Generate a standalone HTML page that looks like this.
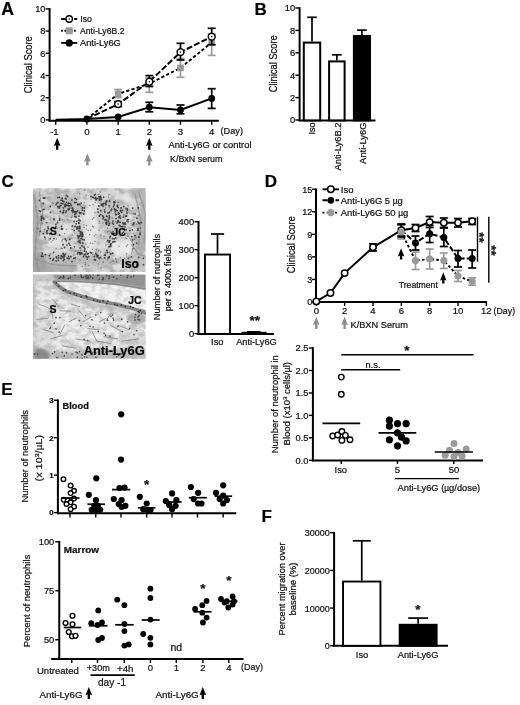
<!DOCTYPE html>
<html><head><meta charset="utf-8"><title>Figure</title>
<style>
html,body{margin:0;padding:0;background:#fff;}
svg{display:block;font-family:"Liberation Sans",Arial,sans-serif;}
svg text{stroke:#111;stroke-width:0.22px;}
</style></head><body>
<svg width="520" height="705" viewBox="0 0 520 705">
<rect width="520" height="705" fill="#fff"/>
<text x="1.2" y="14.7" font-size="17.6" text-anchor="start" font-weight="bold" fill="#000">A</text>
<line x1="49.60" y1="8.10" x2="49.60" y2="121.60" stroke="#000" stroke-width="2" stroke-linecap="butt"/>
<line x1="48.70" y1="120.80" x2="218.80" y2="120.80" stroke="#000" stroke-width="2" stroke-linecap="butt"/>
<line x1="45.60" y1="119.90" x2="49.60" y2="119.90" stroke="#000" stroke-width="1.4" stroke-linecap="butt"/>
<text x="45.4" y="123.2" font-size="9.2" text-anchor="end" fill="#111">0</text>
<line x1="45.60" y1="97.70" x2="49.60" y2="97.70" stroke="#000" stroke-width="1.4" stroke-linecap="butt"/>
<text x="45.4" y="101.0" font-size="9.2" text-anchor="end" fill="#111">2</text>
<line x1="45.60" y1="75.50" x2="49.60" y2="75.50" stroke="#000" stroke-width="1.4" stroke-linecap="butt"/>
<text x="45.4" y="78.8" font-size="9.2" text-anchor="end" fill="#111">4</text>
<line x1="45.60" y1="53.30" x2="49.60" y2="53.30" stroke="#000" stroke-width="1.4" stroke-linecap="butt"/>
<text x="45.4" y="56.60000000000001" font-size="9.2" text-anchor="end" fill="#111">6</text>
<line x1="45.60" y1="31.10" x2="49.60" y2="31.10" stroke="#000" stroke-width="1.4" stroke-linecap="butt"/>
<text x="45.4" y="34.400000000000006" font-size="9.2" text-anchor="end" fill="#111">8</text>
<line x1="45.60" y1="8.90" x2="49.60" y2="8.90" stroke="#000" stroke-width="1.4" stroke-linecap="butt"/>
<text x="45.4" y="12.200000000000006" font-size="9.2" text-anchor="end" fill="#111">10</text>
<line x1="55.70" y1="120.80" x2="55.70" y2="124.80" stroke="#000" stroke-width="1.4" stroke-linecap="butt"/>
<text x="54.400000000000006" y="134.6" font-size="9.6" text-anchor="middle" fill="#111">-1</text>
<line x1="86.90" y1="120.80" x2="86.90" y2="124.80" stroke="#000" stroke-width="1.4" stroke-linecap="butt"/>
<text x="86.9" y="134.6" font-size="9.6" text-anchor="middle" fill="#111">0</text>
<line x1="118.10" y1="120.80" x2="118.10" y2="124.80" stroke="#000" stroke-width="1.4" stroke-linecap="butt"/>
<text x="118.10000000000001" y="134.6" font-size="9.6" text-anchor="middle" fill="#111">1</text>
<line x1="149.30" y1="120.80" x2="149.30" y2="124.80" stroke="#000" stroke-width="1.4" stroke-linecap="butt"/>
<text x="149.3" y="134.6" font-size="9.6" text-anchor="middle" fill="#111">2</text>
<line x1="180.50" y1="120.80" x2="180.50" y2="124.80" stroke="#000" stroke-width="1.4" stroke-linecap="butt"/>
<text x="180.5" y="134.6" font-size="9.6" text-anchor="middle" fill="#111">3</text>
<line x1="211.70" y1="120.80" x2="211.70" y2="124.80" stroke="#000" stroke-width="1.4" stroke-linecap="butt"/>
<text x="211.7" y="134.6" font-size="9.6" text-anchor="middle" fill="#111">4</text>
<text x="220.5" y="134" font-size="9.5" text-anchor="start" fill="#111" textLength="22.5" lengthAdjust="spacingAndGlyphs">(Day)</text>
<text x="32" y="64.7" font-size="10" text-anchor="middle" fill="#111" transform="rotate(-90 32 64.7)" textLength="57" lengthAdjust="spacingAndGlyphs">Clinical Score</text>
<line x1="118.10" y1="89.50" x2="118.10" y2="97.50" stroke="#9a9a9a" stroke-width="1.7" stroke-linecap="butt"/>
<line x1="114.10" y1="89.50" x2="122.10" y2="89.50" stroke="#9a9a9a" stroke-width="1.7" stroke-linecap="butt"/>
<line x1="114.10" y1="97.50" x2="122.10" y2="97.50" stroke="#9a9a9a" stroke-width="1.7" stroke-linecap="butt"/>
<line x1="149.30" y1="78.00" x2="149.30" y2="92.30" stroke="#9a9a9a" stroke-width="1.7" stroke-linecap="butt"/>
<line x1="145.30" y1="78.00" x2="153.30" y2="78.00" stroke="#9a9a9a" stroke-width="1.7" stroke-linecap="butt"/>
<line x1="145.30" y1="92.30" x2="153.30" y2="92.30" stroke="#9a9a9a" stroke-width="1.7" stroke-linecap="butt"/>
<line x1="180.50" y1="58.50" x2="180.50" y2="77.30" stroke="#9a9a9a" stroke-width="1.7" stroke-linecap="butt"/>
<line x1="176.50" y1="58.50" x2="184.50" y2="58.50" stroke="#9a9a9a" stroke-width="1.7" stroke-linecap="butt"/>
<line x1="176.50" y1="77.30" x2="184.50" y2="77.30" stroke="#9a9a9a" stroke-width="1.7" stroke-linecap="butt"/>
<line x1="211.70" y1="34.00" x2="211.70" y2="55.40" stroke="#9a9a9a" stroke-width="1.7" stroke-linecap="butt"/>
<line x1="207.70" y1="34.00" x2="215.70" y2="34.00" stroke="#9a9a9a" stroke-width="1.7" stroke-linecap="butt"/>
<line x1="207.70" y1="55.40" x2="215.70" y2="55.40" stroke="#9a9a9a" stroke-width="1.7" stroke-linecap="butt"/>
<polyline points="86.90,118.93 118.10,93.92 149.30,83.72 180.50,67.92 211.70,42.47" fill="none" stroke="#000" stroke-width="1.9" stroke-dasharray="3.2 2.2"/>
<rect x="114.80" y="90.62" width="6.60" height="6.60" fill="#9a9a9a"/>
<rect x="146.00" y="80.42" width="6.60" height="6.60" fill="#9a9a9a"/>
<rect x="177.20" y="64.62" width="6.60" height="6.60" fill="#9a9a9a"/>
<rect x="208.40" y="39.17" width="6.60" height="6.60" fill="#9a9a9a"/>
<line x1="149.30" y1="75.60" x2="149.30" y2="86.50" stroke="#000" stroke-width="1.7" stroke-linecap="butt"/>
<line x1="145.30" y1="75.60" x2="153.30" y2="75.60" stroke="#000" stroke-width="1.7" stroke-linecap="butt"/>
<line x1="145.30" y1="86.50" x2="153.30" y2="86.50" stroke="#000" stroke-width="1.7" stroke-linecap="butt"/>
<line x1="180.50" y1="43.30" x2="180.50" y2="60.00" stroke="#000" stroke-width="1.7" stroke-linecap="butt"/>
<line x1="176.50" y1="43.30" x2="184.50" y2="43.30" stroke="#000" stroke-width="1.7" stroke-linecap="butt"/>
<line x1="176.50" y1="60.00" x2="184.50" y2="60.00" stroke="#000" stroke-width="1.7" stroke-linecap="butt"/>
<line x1="211.70" y1="28.30" x2="211.70" y2="44.70" stroke="#000" stroke-width="1.7" stroke-linecap="butt"/>
<line x1="207.70" y1="28.30" x2="215.70" y2="28.30" stroke="#000" stroke-width="1.7" stroke-linecap="butt"/>
<line x1="207.70" y1="44.70" x2="215.70" y2="44.70" stroke="#000" stroke-width="1.7" stroke-linecap="butt"/>
<line x1="118.10" y1="101.50" x2="118.10" y2="106.50" stroke="#000" stroke-width="1.7" stroke-linecap="butt"/>
<line x1="114.10" y1="101.50" x2="122.10" y2="101.50" stroke="#000" stroke-width="1.7" stroke-linecap="butt"/>
<line x1="114.10" y1="106.50" x2="122.10" y2="106.50" stroke="#000" stroke-width="1.7" stroke-linecap="butt"/>
<polyline points="86.90,118.93 118.10,104.12 149.30,81.74 180.50,52.12 211.70,36.66" fill="none" stroke="#000" stroke-width="2.0" stroke-dasharray="6 2.2"/>
<circle cx="118.10" cy="104.12" r="3.4" fill="#fff" stroke="#000" stroke-width="1.5"/>
<circle cx="118.10" cy="104.12" r="0.8" fill="#000"/>
<circle cx="149.30" cy="81.74" r="3.4" fill="#fff" stroke="#000" stroke-width="1.5"/>
<circle cx="149.30" cy="81.74" r="0.8" fill="#000"/>
<circle cx="180.50" cy="52.12" r="3.4" fill="#fff" stroke="#000" stroke-width="1.5"/>
<circle cx="180.50" cy="52.12" r="0.8" fill="#000"/>
<circle cx="211.70" cy="36.66" r="3.4" fill="#fff" stroke="#000" stroke-width="1.5"/>
<circle cx="211.70" cy="36.66" r="0.8" fill="#000"/>
<line x1="149.30" y1="102.30" x2="149.30" y2="111.80" stroke="#000" stroke-width="1.7" stroke-linecap="butt"/>
<line x1="145.30" y1="102.30" x2="153.30" y2="102.30" stroke="#000" stroke-width="1.7" stroke-linecap="butt"/>
<line x1="145.30" y1="111.80" x2="153.30" y2="111.80" stroke="#000" stroke-width="1.7" stroke-linecap="butt"/>
<line x1="180.50" y1="105.00" x2="180.50" y2="113.80" stroke="#000" stroke-width="1.7" stroke-linecap="butt"/>
<line x1="176.50" y1="105.00" x2="184.50" y2="105.00" stroke="#000" stroke-width="1.7" stroke-linecap="butt"/>
<line x1="176.50" y1="113.80" x2="184.50" y2="113.80" stroke="#000" stroke-width="1.7" stroke-linecap="butt"/>
<line x1="211.70" y1="88.70" x2="211.70" y2="108.40" stroke="#000" stroke-width="1.7" stroke-linecap="butt"/>
<line x1="207.70" y1="88.70" x2="215.70" y2="88.70" stroke="#000" stroke-width="1.7" stroke-linecap="butt"/>
<line x1="207.70" y1="108.40" x2="215.70" y2="108.40" stroke="#000" stroke-width="1.7" stroke-linecap="butt"/>
<polyline points="55.70,119.70 86.90,118.93 118.10,116.96 149.30,107.19 180.50,109.94 211.70,98.42" fill="none" stroke="#000" stroke-width="2.0"/>
<circle cx="86.90" cy="118.93" r="3.4" fill="#000"/>
<circle cx="118.10" cy="116.96" r="3.4" fill="#000"/>
<circle cx="149.30" cy="107.19" r="3.4" fill="#000"/>
<circle cx="180.50" cy="109.94" r="3.4" fill="#000"/>
<circle cx="211.70" cy="98.42" r="3.4" fill="#000"/>
<line x1="61.20" y1="19.00" x2="77.30" y2="19.00" stroke="#000" stroke-width="1.9" stroke-dasharray="5 1.5" stroke-linecap="butt"/>
<circle cx="69.20" cy="19.00" r="3.2" fill="#fff" stroke="#000" stroke-width="1.4"/>
<circle cx="69.20" cy="19.00" r="0.8" fill="#000"/>
<line x1="61.20" y1="30.80" x2="77.30" y2="30.80" stroke="#000" stroke-width="1.9" stroke-dasharray="1.7 1.5" stroke-linecap="butt"/>
<rect x="65.70" y="27.30" width="7.00" height="7.00" fill="#9a9a9a"/>
<line x1="61.20" y1="42.90" x2="77.30" y2="42.90" stroke="#000" stroke-width="1.9" stroke-linecap="butt"/>
<circle cx="69.20" cy="42.90" r="3.6" fill="#000"/>
<text x="80.3" y="22.3" font-size="9.2" text-anchor="start" fill="#111" textLength="11.6" lengthAdjust="spacingAndGlyphs">Iso</text>
<text x="80" y="34.1" font-size="9.2" text-anchor="start" fill="#111" textLength="44.5" lengthAdjust="spacingAndGlyphs">Anti-Ly6B.2</text>
<text x="80" y="46.199999999999996" font-size="9.2" text-anchor="start" fill="#111" textLength="40.8" lengthAdjust="spacingAndGlyphs">Anti-Ly6G</text>
<polygon points="57.20,137.70 60.50,146.10 58.35,145.20 58.35,149.70 56.05,149.70 56.05,145.20 53.90,146.10" fill="#000"/>
<polygon points="149.30,137.70 152.60,146.10 150.45,145.20 150.45,149.70 148.15,149.70 148.15,145.20 146.00,146.10" fill="#000"/>
<polygon points="87.40,153.40 90.70,161.80 88.55,160.90 88.55,165.50 86.25,165.50 86.25,160.90 84.10,161.80" fill="#8c8c8c"/>
<polygon points="149.30,153.40 152.60,161.80 150.45,160.90 150.45,165.50 148.15,165.50 148.15,160.90 146.00,161.80" fill="#8c8c8c"/>
<text x="168.5" y="148.4" font-size="9.5" text-anchor="start" fill="#111" textLength="83" lengthAdjust="spacingAndGlyphs">Anti-Ly6G or control</text>
<text x="170" y="161.8" font-size="9.5" text-anchor="start" fill="#111" textLength="52.5" lengthAdjust="spacingAndGlyphs">K/BxN serum</text>
<text x="254.6" y="15.1" font-size="17" text-anchor="start" font-weight="bold" fill="#000">B</text>
<line x1="299.60" y1="7.20" x2="299.60" y2="121.20" stroke="#000" stroke-width="2" stroke-linecap="butt"/>
<line x1="298.70" y1="120.40" x2="375.50" y2="120.40" stroke="#000" stroke-width="2" stroke-linecap="butt"/>
<line x1="295.40" y1="120.00" x2="299.60" y2="120.00" stroke="#000" stroke-width="1.4" stroke-linecap="butt"/>
<text x="295.20000000000005" y="123.3" font-size="9.4" text-anchor="end" fill="#111">0</text>
<line x1="295.40" y1="97.60" x2="299.60" y2="97.60" stroke="#000" stroke-width="1.4" stroke-linecap="butt"/>
<text x="295.20000000000005" y="100.89999999999999" font-size="9.4" text-anchor="end" fill="#111">2</text>
<line x1="295.40" y1="75.20" x2="299.60" y2="75.20" stroke="#000" stroke-width="1.4" stroke-linecap="butt"/>
<text x="295.20000000000005" y="78.5" font-size="9.4" text-anchor="end" fill="#111">4</text>
<line x1="295.40" y1="52.80" x2="299.60" y2="52.80" stroke="#000" stroke-width="1.4" stroke-linecap="butt"/>
<text x="295.20000000000005" y="56.10000000000001" font-size="9.4" text-anchor="end" fill="#111">6</text>
<line x1="295.40" y1="30.40" x2="299.60" y2="30.40" stroke="#000" stroke-width="1.4" stroke-linecap="butt"/>
<text x="295.20000000000005" y="33.7" font-size="9.4" text-anchor="end" fill="#111">8</text>
<line x1="295.40" y1="8.00" x2="299.60" y2="8.00" stroke="#000" stroke-width="1.4" stroke-linecap="butt"/>
<text x="295.20000000000005" y="11.3" font-size="9.4" text-anchor="end" fill="#111">10</text>
<line x1="312.00" y1="17.30" x2="312.00" y2="41.60" stroke="#000" stroke-width="1.7" stroke-linecap="butt"/>
<line x1="307.20" y1="17.30" x2="316.80" y2="17.30" stroke="#000" stroke-width="1.7" stroke-linecap="butt"/>
<rect x="303.80" y="42.60" width="16.40" height="77.80" fill="#fff" stroke="#000" stroke-width="2"/>
<line x1="336.85" y1="54.80" x2="336.85" y2="60.40" stroke="#000" stroke-width="1.7" stroke-linecap="butt"/>
<line x1="332.05" y1="54.80" x2="341.65" y2="54.80" stroke="#000" stroke-width="1.7" stroke-linecap="butt"/>
<rect x="329.10" y="61.40" width="15.50" height="59.00" fill="#fff" stroke="#000" stroke-width="2"/>
<line x1="361.95" y1="30.10" x2="361.95" y2="35.00" stroke="#000" stroke-width="1.7" stroke-linecap="butt"/>
<line x1="357.15" y1="30.10" x2="366.75" y2="30.10" stroke="#000" stroke-width="1.7" stroke-linecap="butt"/>
<rect x="353.90" y="36.00" width="16.10" height="84.40" fill="#000" stroke="#000" stroke-width="2"/>
<text x="277.2" y="63.8" font-size="10" text-anchor="middle" fill="#111" transform="rotate(-90 277.2 63.8)" textLength="57" lengthAdjust="spacingAndGlyphs">Clinical Score</text>
<text x="315.5" y="122.4" font-size="9.3" text-anchor="end" fill="#111" transform="rotate(-90 315.5 122.4)" textLength="12.2" lengthAdjust="spacingAndGlyphs">Iso</text>
<text x="340.8" y="122.4" font-size="9.3" text-anchor="end" fill="#111" transform="rotate(-90 340.8 122.4)" textLength="48.2" lengthAdjust="spacingAndGlyphs">Anti-Ly6B.2</text>
<text x="366" y="122.4" font-size="9.3" text-anchor="end" fill="#111" transform="rotate(-90 366 122.4)" textLength="41.5" lengthAdjust="spacingAndGlyphs">Anti-Ly6G</text>
<text x="1.4" y="186.9" font-size="17" text-anchor="start" font-weight="bold" fill="#000">C</text>
<defs>
<filter id="bl1" x="-5%" y="-5%" width="110%" height="110%"><feGaussianBlur stdDeviation="0.5"/></filter>
<filter id="bl2" x="-10%" y="-10%" width="120%" height="120%"><feGaussianBlur stdDeviation="1.0"/></filter>
<filter id="bl3" x="-20%" y="-20%" width="140%" height="140%"><feGaussianBlur stdDeviation="1.6"/></filter>
<filter id="tx" x="0" y="0" width="100%" height="100%"><feTurbulence type="fractalNoise" baseFrequency="0.13 0.2" numOctaves="3" seed="3" result="n"/><feColorMatrix in="n" type="matrix" values="0 0 0 0 0.28  0 0 0 0 0.28  0 0 0 0 0.28  3.4 0 0 0 -1.35"/></filter>
<filter id="tw" x="0" y="0" width="100%" height="100%"><feTurbulence type="fractalNoise" baseFrequency="0.1 0.14" numOctaves="2" seed="11" result="n"/><feColorMatrix in="n" type="matrix" values="0 0 0 0 0.97  0 0 0 0 0.97  0 0 0 0 0.97  0 3.6 0 0 -1.5"/></filter>
<clipPath id="c1"><rect x="32.9" y="188.2" width="112.7" height="83.7"/></clipPath>
<clipPath id="c2"><rect x="32.9" y="274.5" width="112.7" height="84.3"/></clipPath>
</defs>
<g clip-path="url(#c1)">
<rect x="32.9" y="188.2" width="112.7" height="83.7" fill="#d2d2d2"/>
<rect x="32.9" y="188.2" width="112.7" height="83.7" filter="url(#tw)" opacity="0.28"/>
<rect x="32.9" y="188.2" width="112.7" height="83.7" filter="url(#tx)" opacity="0.55"/>
<g filter="url(#bl3)" opacity="0.8">
<ellipse cx="91.2" cy="226.5" rx="8.3" ry="28.8" fill="#ececec" opacity="1" transform="rotate(6 91.2 226.5)"/>
<ellipse cx="122.3" cy="247.8" rx="12.0" ry="8.3" fill="#efefef" opacity="1" transform="rotate(0 122.3 247.8)"/>
<ellipse cx="130.4" cy="197.7" rx="8.8" ry="6.5" fill="#e6e6e6" opacity="1" transform="rotate(0 130.4 197.7)"/>
<ellipse cx="56.5" cy="242.7" rx="8.3" ry="6.9" fill="#e6e6e6" opacity="1" transform="rotate(0 56.5 242.7)"/>
<ellipse cx="65.8" cy="230.0" rx="6.9" ry="6.5" fill="#e6e6e6" opacity="1" transform="rotate(0 65.8 230.0)"/>
<ellipse cx="77.3" cy="219.6" rx="5.1" ry="5.8" fill="#e2e2e2" opacity="1" transform="rotate(0 77.3 219.6)"/>
<ellipse cx="106.2" cy="193.1" rx="13.8" ry="2.8" fill="#dcdcdc" opacity="1" transform="rotate(0 106.2 193.1)"/>
<ellipse cx="34.2" cy="231.2" rx="5.5" ry="42.7" fill="#a6a6a6" opacity="1" transform="rotate(0 34.2 231.2)"/>
<ellipse cx="142.6" cy="228.8" rx="6.5" ry="40.4" fill="#adadad" opacity="1" transform="rotate(8 142.6 228.8)"/>
<ellipse cx="48.5" cy="268.1" rx="30.0" ry="5.5" fill="#a8a8a8" opacity="1" transform="rotate(0 48.5 268.1)"/>
<ellipse cx="36.9" cy="263.5" rx="10.4" ry="11.5" fill="#9a9a9a" opacity="1" transform="rotate(0 36.9 263.5)"/>
<ellipse cx="66.9" cy="205.8" rx="17.3" ry="8.8" fill="#bcbcbc" opacity="1" transform="rotate(20 66.9 205.8)"/>
<ellipse cx="110.8" cy="215.0" rx="15.0" ry="15.0" fill="#c2c2c2" opacity="1" transform="rotate(0 110.8 215.0)"/>
<ellipse cx="80.8" cy="260.0" rx="34.6" ry="4.6" fill="#b8b8b8" opacity="1" transform="rotate(3 80.8 260.0)"/>
<ellipse cx="136.2" cy="263.5" rx="13.8" ry="6.0" fill="#bcbcbc" opacity="1" transform="rotate(0 136.2 263.5)"/>
<ellipse cx="81.2" cy="238.1" rx="3.7" ry="13.8" fill="#c0c0c0" opacity="1" transform="rotate(-12 81.2 238.1)"/>
<ellipse cx="139.6" cy="193.1" rx="10.4" ry="6.9" fill="#b0b0b0" opacity="1" transform="rotate(0 139.6 193.1)"/>
</g>
<g filter="url(#bl1)">
<path d="M33.5 194.2 L38.1 219.6 L34.6 254.2 L39.2 272.7M39.2 191.9 L42.7 212.7 L39.2 235.8M135.0 194.2 L140.8 219.6 L138.5 245.0M138.5 191.9 L145.4 212.7 L144.2 242.7M131.5 245.0 L138.5 254.2 L145.4 256.5M34.6 258.8 L53.1 264.6 L76.2 265.8M126.9 233.5 L133.8 245.0 L131.5 254.2" stroke="#8a8a8a" stroke-width="1.3" stroke-linecap="round" stroke-linejoin="round" fill="none" opacity="0.7"/>
<path d="M73.1 211.9h0M79.8 213.3h0M59.5 207.9h0M65.4 204.2h0M66.1 205.4h0M72.4 208.4h0M76.1 202.3h0M69.0 209.3h0M82.3 207.9h0M57.9 206.4h0M83.7 214.0h0M62.5 212.6h0M72.9 209.8h0M74.6 202.5h0M63.9 201.7h0M58.3 207.7h0M79.4 212.4h0M69.5 208.3h0M56.0 204.7h0M62.4 200.3h0M63.7 210.4h0M67.5 196.4h0M62.8 201.1h0M79.3 204.1h0M63.2 212.1h0M78.9 216.2h0M71.8 200.1h0M62.8 203.7h0M68.2 203.6h0M57.8 197.6h0M60.4 211.5h0M59.5 197.4h0M56.6 203.3h0M84.3 208.0h0M65.4 198.3h0M68.8 203.2h0M82.4 210.2h0M63.1 212.7h0M66.1 199.0h0M66.7 205.2h0M73.3 210.1h0M70.5 203.7h0M68.1 209.1h0M77.8 204.2h0M64.6 205.0h0M79.8 204.5h0M81.2 203.1h0M60.9 205.5h0M77.8 204.8h0M75.9 216.4h0M68.6 209.8h0M61.3 203.3h0M65.7 212.4h0M68.2 205.7h0M61.0 200.2h0M66.4 195.4h0M62.2 198.2h0M80.9 212.9h0M75.2 198.3h0M76.7 199.3h0M59.8 206.2h0M66.5 202.3h0M72.6 208.0h0M71.8 210.7h0M77.6 210.8h0M69.3 205.9h0M65.0 206.7h0M71.4 205.4h0M74.7 214.3h0M63.2 207.8h0M74.9 212.2h0M84.3 210.9h0M58.0 202.4h0M72.5 208.8h0M66.4 210.8h0M78.9 230.6h0M76.7 221.3h0M78.6 228.4h0M79.3 223.1h0M79.0 220.5h0M74.0 212.0h0M75.1 226.4h0M76.0 217.2h0M76.0 213.6h0M77.1 228.4h0M79.8 220.6h0M76.6 211.8h0M75.0 211.6h0M74.1 221.5h0M78.7 223.0h0M76.2 223.8h0M74.9 216.5h0M72.6 225.9h0M80.1 220.7h0M74.2 230.6h0M76.9 227.2h0M77.1 226.8h0M82.2 232.5h0M78.3 241.5h0M79.9 228.6h0M80.0 236.0h0M79.2 226.4h0M78.5 241.5h0M80.4 233.6h0M80.3 231.7h0M80.1 248.0h0M82.8 236.0h0M84.9 249.0h0M82.8 243.0h0M79.9 226.9h0M80.9 234.5h0M76.9 228.5h0M78.7 237.3h0M82.6 239.4h0M76.8 228.9h0M82.8 234.7h0M81.5 232.4h0M84.6 251.0h0M82.1 245.9h0M79.0 236.1h0M80.3 242.9h0M81.8 236.4h0M79.6 241.8h0M82.3 232.9h0M82.3 234.5h0M78.3 237.9h0M84.1 239.8h0M84.0 247.2h0M81.1 238.4h0M80.0 240.5h0M77.5 235.8h0M82.0 253.3h0M91.6 253.0h0M85.3 253.9h0M87.3 257.1h0M78.1 252.3h0M90.2 252.5h0M77.5 253.8h0M79.3 252.7h0M86.5 251.9h0M80.9 252.7h0M97.0 256.5h0M96.8 255.0h0M87.1 259.1h0M97.7 256.6h0M95.4 260.1h0M84.7 254.8h0M88.8 256.5h0M87.5 254.0h0M98.1 255.6h0M88.2 253.6h0M94.4 259.6h0M100.3 257.6h0M94.5 256.3h0M81.1 253.5h0M95.8 253.5h0M84.2 254.9h0M83.5 256.6h0M86.2 256.4h0M99.1 258.6h0M80.1 254.2h0M56.3 256.9h0M42.4 254.1h0M62.6 257.1h0M74.8 258.1h0M56.9 258.1h0M58.5 255.7h0M64.4 259.4h0M68.7 256.3h0M56.1 260.9h0M64.4 256.5h0M53.7 252.3h0M63.1 257.8h0M43.1 256.4h0M62.6 256.7h0M63.2 253.4h0M61.3 255.9h0M61.1 256.0h0M50.3 258.4h0M70.9 256.7h0M64.3 259.4h0M58.2 260.3h0M60.9 258.4h0M58.8 257.8h0M53.6 258.7h0M52.9 260.2h0M63.3 260.6h0M69.0 258.5h0M67.3 258.1h0M42.1 253.0h0M49.3 255.7h0M72.0 261.6h0M41.4 256.2h0M65.0 254.5h0M45.5 254.7h0M73.8 258.3h0M63.7 254.8h0M94.4 195.1h0M96.0 199.9h0M100.6 198.4h0M99.1 196.6h0M101.5 199.5h0M100.6 196.7h0M95.3 194.3h0M99.5 199.9h0M94.6 198.3h0M96.0 198.2h0M103.6 197.2h0M91.0 196.5h0M103.5 197.3h0M96.2 199.5h0M99.0 197.8h0M93.2 197.6h0M95.3 197.6h0M99.2 198.0h0M97.1 198.4h0M101.0 197.8h0M99.8 200.0h0M92.6 197.1h0M103.6 203.5h0M117.4 205.3h0M106.0 219.7h0M117.1 222.9h0M102.9 204.2h0M111.0 210.4h0M101.3 204.1h0M113.8 202.6h0M104.9 212.0h0M114.2 204.9h0M114.9 202.6h0M117.2 206.6h0M106.0 202.9h0M115.6 213.9h0M106.6 216.2h0M111.7 209.2h0M103.0 205.9h0M105.4 203.6h0M118.5 212.9h0M109.5 201.4h0M100.8 210.7h0M119.0 216.8h0M109.5 223.6h0M109.3 216.1h0M112.6 223.1h0M120.4 211.0h0M103.0 218.7h0M106.1 204.7h0M101.4 205.2h0M118.6 217.5h0M109.5 217.6h0M105.9 223.0h0M119.2 213.4h0M109.2 215.8h0M105.9 203.0h0M107.0 222.8h0M100.7 214.7h0M116.0 218.6h0M113.4 224.1h0M121.2 207.8h0M108.0 213.1h0M120.9 210.4h0M108.6 221.1h0M115.1 210.7h0M104.5 209.8h0M104.9 212.0h0M117.9 221.9h0M98.1 212.1h0M106.2 201.2h0M114.5 209.0h0M118.4 214.1h0M108.9 212.7h0M106.9 220.8h0M107.0 216.6h0M113.4 206.7h0M109.6 212.2h0M118.1 220.7h0M106.8 200.8h0M106.6 224.4h0M103.6 217.5h0M98.9 206.0h0M102.8 216.0h0M116.0 214.7h0M111.7 209.2h0M115.9 210.0h0M109.0 219.0h0M113.0 221.1h0M117.1 210.6h0M114.1 201.7h0M118.2 207.5h0M97.9 208.9h0M119.9 216.0h0M99.3 216.0h0M102.8 204.0h0M116.1 214.7h0M118.1 221.5h0M104.8 219.9h0M109.1 205.8h0M108.8 225.2h0M106.4 222.5h0M119.9 225.7h0M124.1 224.5h0M125.7 216.3h0M123.3 229.2h0M128.3 219.7h0M125.0 226.9h0M125.0 223.0h0M125.6 224.2h0M122.7 226.3h0M127.0 213.1h0M119.2 225.5h0M120.4 218.0h0M121.2 226.7h0M122.9 223.0h0M126.1 229.6h0M121.6 212.3h0M123.4 232.2h0M122.9 226.8h0M120.2 222.3h0M127.3 208.9h0M128.0 221.8h0M123.4 217.2h0M118.6 221.4h0M127.3 220.0h0M126.6 216.0h0M127.2 210.0h0M122.3 233.2h0M124.1 223.5h0M122.7 210.4h0M123.7 206.4h0M114.1 233.3h0M109.9 237.8h0M112.5 238.7h0M114.2 238.8h0M109.0 246.9h0M111.1 243.6h0M112.7 233.4h0M112.8 242.0h0M110.3 236.5h0M110.9 246.0h0M114.9 241.7h0M109.5 241.0h0M111.4 232.9h0M107.8 240.7h0M110.8 244.7h0M113.1 231.7h0M113.9 241.7h0M112.1 234.4h0M110.3 246.1h0M115.7 237.9h0M113.5 241.8h0M109.2 242.3h0M109.1 257.5h0M106.9 250.5h0M108.7 257.1h0M104.7 258.0h0M108.1 258.0h0M107.5 252.3h0M110.9 253.6h0M109.2 256.9h0M104.5 255.2h0M112.7 253.2h0M105.2 255.2h0M110.5 253.9h0M55.3 228.1h0M48.3 228.5h0M59.7 218.5h0M61.6 226.4h0M44.9 237.3h0M55.8 224.4h0M61.5 228.7h0M43.3 233.7h0M47.0 233.3h0M56.0 226.6h0M46.8 231.9h0M59.6 235.2h0M54.1 238.6h0M54.1 219.7h0M40.3 231.3h0M48.0 227.0h0M57.5 222.8h0M47.1 230.7h0M62.6 228.8h0M53.9 219.0h0M61.5 229.3h0M53.0 227.4h0M50.2 238.7h0M59.6 220.0h0M49.7 233.9h0M41.6 218.2h0M43.1 203.5h0M43.2 218.1h0M43.9 209.5h0M39.4 200.5h0M50.5 212.4h0M40.5 211.4h0M50.3 206.5h0M43.8 219.0h0M39.3 210.8h0M46.6 222.6h0M43.4 198.0h0M44.7 198.0h0M41.3 219.9h0M41.3 216.4h0M140.0 234.0h0M135.1 214.0h0M138.0 228.8h0M133.9 222.9h0M138.7 222.6h0M141.1 222.6h0M137.9 230.2h0M133.0 224.3h0M129.9 230.6h0M132.3 229.8h0M132.7 208.1h0M138.2 207.9h0M138.8 237.2h0M133.4 244.6h0M131.6 236.7h0M136.7 243.1h0M135.1 235.7h0M136.9 218.2h0M132.7 239.8h0M139.1 223.5h0M136.9 265.2h0M131.4 256.9h0M143.5 264.6h0M138.8 257.5h0M143.4 258.4h0M135.7 262.3h0M137.3 263.0h0M128.3 258.3h0M64.6 247.5h0M63.1 244.7h0M69.8 239.2h0M74.5 246.8h0M65.3 239.0h0M67.0 245.1h0M70.0 245.2h0M66.4 240.6h0M70.8 248.0h0M68.9 243.3h0" stroke="#282828" stroke-width="1.8" stroke-linecap="round" fill="none" opacity="0.85"/>
<path d="M107.7 259.4h0M98.7 250.5h0M43.8 218.1h0M101.0 234.9h0M57.6 221.0h0M126.4 246.3h0M82.6 213.5h0M82.8 254.1h0M118.8 222.4h0M62.3 219.7h0M62.0 240.9h0M140.4 228.0h0M100.7 251.9h0M103.3 261.9h0M93.4 227.1h0M105.1 205.1h0M115.6 211.6h0M109.2 252.2h0M83.7 227.3h0M126.6 211.5h0M78.4 220.5h0M57.0 228.2h0M85.7 243.9h0M124.9 215.7h0M72.1 229.6h0M137.6 221.4h0M106.9 241.7h0M142.0 222.8h0M125.6 238.1h0M50.2 254.0h0M52.5 202.5h0M116.3 259.8h0M98.4 264.1h0M109.6 207.7h0M110.2 262.4h0M69.5 240.0h0M61.0 248.3h0M90.4 243.0h0M126.9 208.2h0M79.8 225.7h0M135.9 237.2h0M126.7 253.8h0M50.1 219.2h0M75.1 258.9h0M59.5 215.9h0M70.8 206.7h0M56.4 239.0h0M83.9 224.7h0M93.5 257.0h0M98.9 194.2h0M105.7 253.6h0M119.2 246.2h0M72.4 235.0h0M74.7 233.2h0M127.5 236.2h0M127.6 244.8h0M98.0 194.8h0M126.6 238.5h0M62.3 248.8h0M124.7 258.6h0M140.2 227.9h0M108.4 197.1h0M113.7 226.8h0M126.6 221.2h0M116.4 262.1h0M133.6 213.7h0M81.8 237.2h0M115.6 258.4h0M82.0 266.6h0M120.4 257.5h0M123.7 215.0h0M88.0 247.2h0M73.8 254.9h0M94.3 235.9h0M110.1 222.5h0M125.4 208.5h0M94.8 212.7h0M71.9 226.2h0M62.5 253.7h0M42.3 216.0h0M120.6 208.2h0M107.5 228.3h0M56.1 248.6h0M85.5 264.8h0M42.3 210.1h0M93.0 204.7h0M106.0 252.9h0M134.6 239.3h0M88.9 265.4h0M133.1 225.6h0M68.6 202.4h0M120.3 229.1h0M95.9 234.8h0M51.2 241.9h0M120.8 211.2h0M92.8 243.4h0M133.4 233.4h0M88.3 230.5h0M79.0 239.1h0M67.8 219.3h0M101.8 258.6h0M47.7 233.9h0M108.3 223.1h0M105.8 244.9h0M79.2 219.3h0M100.2 191.9h0M86.9 254.3h0M86.4 225.4h0M66.0 253.3h0M49.1 240.1h0M84.6 190.0h0M112.2 217.4h0M78.8 227.2h0M92.7 254.5h0M92.4 219.2h0M84.3 227.4h0M123.0 259.4h0M71.2 217.5h0M65.7 206.5h0M112.3 261.3h0M80.6 250.2h0M99.2 223.2h0M79.6 194.0h0M92.4 226.2h0M44.3 236.4h0M45.4 239.1h0M110.3 240.6h0M115.4 233.5h0M89.9 205.5h0M115.5 201.0h0M85.4 262.7h0M52.9 240.6h0M42.4 223.6h0M72.5 212.7h0M101.0 267.7h0M140.6 232.5h0M92.4 249.4h0M134.0 217.0h0M68.2 259.7h0M65.9 262.2h0M112.2 218.0h0M74.9 198.8h0M133.8 224.5h0M109.9 205.5h0M118.3 202.5h0M84.3 202.5h0M75.5 257.4h0M72.1 215.9h0M102.8 222.9h0M110.3 231.4h0M106.0 223.2h0M110.0 247.3h0M98.9 230.6h0M59.9 203.8h0M86.2 195.2h0M78.3 223.3h0M103.5 206.7h0M128.1 205.8h0M99.4 221.2h0M138.7 215.6h0M94.9 241.6h0M107.7 231.7h0M109.0 194.5h0M109.6 200.2h0M80.0 260.1h0M104.0 236.2h0M103.2 262.6h0M62.8 239.4h0M89.7 234.7h0M83.8 207.9h0M75.8 251.0h0M36.8 227.9h0M53.2 203.6h0M81.8 232.5h0M95.2 202.4h0M81.0 206.0h0M98.3 257.8h0M132.4 249.1h0M113.6 260.9h0M90.6 230.2h0M136.9 224.0h0M86.4 229.0h0M101.0 201.7h0M66.7 229.4h0M105.7 208.1h0M116.0 221.7h0M96.4 249.8h0M44.6 229.2h0M78.2 218.7h0M93.6 217.7h0M100.4 196.0h0M63.5 254.1h0M62.9 244.6h0M133.9 248.5h0M140.5 234.8h0M88.0 247.1h0M38.5 228.6h0M114.9 212.3h0M64.6 233.6h0M91.1 199.4h0" stroke="#4a4a4a" stroke-width="1.5" stroke-linecap="round" fill="none" opacity="0.6"/>
</g>
</g>
<g clip-path="url(#c2)">
<rect x="32.9" y="274.5" width="112.7" height="84.3" fill="#e9e9e9"/>
<rect x="32.9" y="274.5" width="112.7" height="84.3" filter="url(#tw)" opacity="0.2"/>
<rect x="32.9" y="274.5" width="112.7" height="84.3" filter="url(#tx)" opacity="0.15"/>
<g filter="url(#bl2)">
<path d="M51.9 273.2 L146.5 273.2 L146.5 289.1 L119.1 284.7 L97.6 282.6 L76.2 281.5 L55.4 281.2Z" fill="#8e8e8e" opacity="0.95"/>
<path d="M31.2 273.2 L51.9 273.2 L57.7 281.2 L43.8 282.4 L31.2 281.2Z" fill="#c6c6c6" opacity="0.9"/>
<path d="M54.2 282.2 L60.7 287.7 L67.4 291.8 L82.6 296.5 L97.6 300.8 L114.9 304.1 L127.8 307.3 L146.5 312.4 L146.5 289.1 L119.1 284.7 L97.6 282.6 L76.2 281.5 L55.4 281.2Z" fill="#f3f3f3" opacity="1"/>
<path d="M31.2 350.0 L64.6 351.6 L99.2 349.3 L146.5 348.2 L146.5 363.2 L31.2 363.2Z" fill="#bebebe" opacity="0.9"/>
<ellipse cx="39.2" cy="356.2" rx="10.4" ry="8.1" fill="#8a8a8a" opacity="1" transform="rotate(0 39.2 356.2)"/>
<ellipse cx="137.3" cy="318.2" rx="10.4" ry="6.0" fill="#b0b0b0" opacity="1" transform="rotate(0 137.3 318.2)"/>
<path d="M54.9 285.8 L62.3 292.3 L69.2 296.5 L83.5 301.1 L98.3 305.5 L115.4 308.9 L127.8 312.2" stroke="#c2c2c2" stroke-width="4.5" stroke-linecap="round" stroke-linejoin="round" fill="none" opacity="0.8"/>
<ellipse cx="32.8" cy="318.2" rx="3.2" ry="43.8" fill="#c4c4c4" opacity="1" transform="rotate(0 32.8 318.2)"/>
<ellipse cx="133.8" cy="338.9" rx="13.8" ry="9.2" fill="#d6d6d6" opacity="0.8" transform="rotate(0 133.8 338.9)"/>
<ellipse cx="43.8" cy="334.3" rx="13.8" ry="11.5" fill="#dcdcdc" opacity="0.8" transform="rotate(0 43.8 334.3)"/>
<ellipse cx="85.4" cy="327.4" rx="32.3" ry="13.8" fill="#f0f0f0" opacity="0.7" transform="rotate(0 85.4 327.4)"/>
</g>
<rect x="32.9" y="274.5" width="112.7" height="84.3" filter="url(#tx)" opacity="0.3"/>
<g filter="url(#bl1)">
<path d="M54.2 282.2 L60.7 287.7 L67.4 291.8 L82.6 296.5 L97.6 300.8 L114.9 304.1 L127.8 307.3 L146.5 312.4" stroke="#7c7c7c" stroke-width="3.6" stroke-linecap="round" stroke-linejoin="round" fill="none" opacity="0.92"/>
<path d="M55.4 281.2 L76.2 281.5 L97.6 282.6 L119.1 284.7 L146.5 289.1" stroke="#7a7a7a" stroke-width="1.6" stroke-linecap="round" stroke-linejoin="round" fill="none" opacity="0.8"/>
<path d="M60.0 310.8 L70.4 311.2M69.2 321.6 L76.2 318.2M83.1 321.6 L91.2 317.0M106.2 320.5 L110.8 313.5M36.9 319.3 L48.5 318.2M87.7 328.5 L99.2 329.7M50.8 338.9 L62.3 335.5M99.2 321.6 L106.2 318.2M53.1 299.7 L58.8 306.6M71.5 304.3 L79.6 306.6M117.7 325.1 L129.2 329.7M43.8 329.7 L53.1 332.5M76.2 338.9 L90.0 341.2M103.8 336.6 L117.7 338.9M62.3 345.8 L76.2 348.2M122.3 341.2 L138.5 338.9M39.2 304.3 L50.8 308.9 L53.1 318.2M64.6 325.1 L60.0 334.3M92.3 332.0 L96.9 341.2 L110.8 343.5M110.8 325.1 L122.3 332.0M78.5 310.1 L85.4 318.2" stroke="#707070" stroke-width="0.85" stroke-linecap="round" stroke-linejoin="round" fill="none" opacity="0.8"/>
<path d="M74.9 275.2h0M86.6 278.5h0M109.3 276.2h0M97.3 274.8h0M81.6 277.5h0M63.6 275.9h0M83.3 277.3h0M102.5 279.7h0M92.8 278.2h0M120.7 275.1h0M109.3 278.0h0M88.6 278.3h0M116.9 278.8h0M109.1 278.5h0M93.2 274.4h0M113.5 276.9h0M88.2 277.7h0M112.0 274.4h0M63.0 278.0h0M86.0 276.1h0M103.3 277.9h0M127.3 277.4h0M106.7 275.4h0M60.8 277.1h0M63.5 277.6h0M85.4 276.4h0M97.6 275.3h0M59.4 278.2h0M99.0 275.0h0M103.3 278.9h0M127.8 275.5h0M86.7 274.8h0M81.0 274.8h0M63.8 277.7h0M81.4 276.0h0M86.6 277.5h0M89.9 274.7h0M99.2 279.3h0M70.4 277.6h0M68.6 278.3h0M133.6 276.1h0M88.1 276.1h0M68.1 278.6h0M131.1 276.8h0M90.5 276.9h0M92.1 353.0h0M34.4 354.1h0M72.0 354.0h0M79.4 351.6h0M62.3 352.3h0M37.7 354.1h0M121.3 353.8h0M77.5 352.9h0M90.5 352.0h0M107.0 354.5h0M118.6 355.5h0M64.3 355.9h0M82.1 354.9h0M76.2 352.1h0M84.6 357.1h0M86.3 352.7h0M34.8 353.9h0M95.9 352.8h0M95.9 357.1h0M91.0 353.1h0M54.6 351.8h0M52.6 353.5h0M113.3 354.2h0M66.5 352.7h0M107.9 351.2h0M77.3 357.3h0M116.7 356.8h0M56.8 357.6h0M82.1 358.4h0M86.9 357.2h0M139.5 319.8h0M137.9 316.8h0M138.1 319.4h0M134.9 317.3h0M135.5 314.7h0M135.0 319.9h0M141.4 313.5h0M138.6 316.0h0M139.2 312.7h0M139.1 315.5h0M129.7 328.6h0M93.1 326.9h0M87.7 340.5h0M98.2 331.4h0M91.9 319.7h0M105.6 335.2h0M100.8 312.5h0M104.5 323.2h0M95.8 315.0h0M121.8 319.2h0M112.6 315.2h0M79.4 320.7h0M85.7 315.6h0M113.7 320.2h0M84.1 339.4h0M104.1 333.4h0M122.5 331.5h0M110.0 336.1h0M50.5 327.5h0M113.1 318.4h0M90.0 326.3h0M54.2 323.2h0M111.0 316.3h0M59.3 332.2h0M134.0 334.6h0M59.9 317.7h0M80.8 325.7h0M127.5 321.8h0M118.0 326.3h0M49.9 328.5h0M136.8 330.6h0M55.9 317.7h0M107.6 320.2h0M56.0 328.9h0" stroke="#333" stroke-width="1.7" stroke-linecap="round" fill="none" opacity="0.8"/>
<path d="M56.2 282.8h0M58.7 286.2h0M63.2 290.6h0M65.4 289.9h0M70.1 293.1h0M74.2 293.4h0M76.4 295.1h0M81.2 296.9h0M86.0 295.9h0M86.9 296.9h0M93.7 300.0h0M97.4 300.8h0M99.9 301.8h0M103.2 301.0h0M106.8 303.6h0M107.9 301.1h0M114.7 304.4h0M117.0 305.2h0M121.3 305.2h0M125.2 306.6h0M130.6 306.5h0M133.0 307.7h0M138.3 311.6h0M140.2 310.6h0M145.5 313.7h0" stroke="#2a2a2a" stroke-width="1.8" stroke-linecap="round" fill="none" opacity="0.85"/>
</g>
</g>
<text x="53.2" y="234.9" font-size="10.5" font-weight="bold" text-anchor="middle" fill="#000">S</text>
<text x="112.3" y="236.3" font-size="10.5" font-weight="bold" text-anchor="start" fill="#000" textLength="13.8" lengthAdjust="spacingAndGlyphs">JC</text>
<text x="121.2" y="268.3" font-size="12.6" font-weight="bold" text-anchor="start" fill="#000" textLength="18" lengthAdjust="spacingAndGlyphs">Iso</text>
<text x="53" y="313.4" font-size="10.5" font-weight="bold" text-anchor="middle" fill="#000">S</text>
<text x="128.2" y="304.3" font-size="10.5" font-weight="bold" text-anchor="start" fill="#000" textLength="13.5" lengthAdjust="spacingAndGlyphs">JC</text>
<text x="83.7" y="354.5" font-size="12.6" font-weight="bold" text-anchor="start" fill="#000" textLength="61" lengthAdjust="spacingAndGlyphs">Anti-Ly6G</text>
<line x1="198.50" y1="220.90" x2="198.50" y2="334.70" stroke="#000" stroke-width="2" stroke-linecap="butt"/>
<line x1="197.60" y1="333.90" x2="274.00" y2="333.90" stroke="#000" stroke-width="2" stroke-linecap="butt"/>
<line x1="194.50" y1="333.70" x2="198.50" y2="333.70" stroke="#000" stroke-width="1.4" stroke-linecap="butt"/>
<text x="194.1" y="337.0" font-size="9.3" text-anchor="end" fill="#111">0</text>
<line x1="194.50" y1="305.70" x2="198.50" y2="305.70" stroke="#000" stroke-width="1.4" stroke-linecap="butt"/>
<text x="194.1" y="309.0" font-size="9.3" text-anchor="end" fill="#111">100</text>
<line x1="194.50" y1="277.70" x2="198.50" y2="277.70" stroke="#000" stroke-width="1.4" stroke-linecap="butt"/>
<text x="194.1" y="281.0" font-size="9.3" text-anchor="end" fill="#111">200</text>
<line x1="194.50" y1="249.70" x2="198.50" y2="249.70" stroke="#000" stroke-width="1.4" stroke-linecap="butt"/>
<text x="194.1" y="253.0" font-size="9.3" text-anchor="end" fill="#111">300</text>
<line x1="194.50" y1="221.70" x2="198.50" y2="221.70" stroke="#000" stroke-width="1.4" stroke-linecap="butt"/>
<text x="194.1" y="225.0" font-size="9.3" text-anchor="end" fill="#111">400</text>
<line x1="217.50" y1="234.00" x2="217.50" y2="253.60" stroke="#000" stroke-width="1.7" stroke-linecap="butt"/>
<line x1="210.90" y1="234.00" x2="224.10" y2="234.00" stroke="#000" stroke-width="1.7" stroke-linecap="butt"/>
<rect x="204.95" y="254.55" width="25.10" height="79.35" fill="#fff" stroke="#000" stroke-width="1.9"/>
<rect x="241.50" y="331.80" width="25.00" height="1.40" fill="#000"/>
<rect x="247.00" y="331.00" width="13.50" height="1.20" fill="#000"/>
<text x="254.7" y="324.9" font-size="13.5" text-anchor="middle" font-weight="bold" fill="#111">**</text>
<text x="217.3" y="345.2" font-size="9.3" text-anchor="middle" fill="#111">Iso</text>
<text x="236.2" y="345.2" font-size="9.3" text-anchor="start" fill="#111" textLength="40.5" lengthAdjust="spacingAndGlyphs">Anti-Ly6G</text>
<text x="159.7" y="277" font-size="9.3" text-anchor="middle" fill="#111" transform="rotate(-90 159.7 277)" textLength="86.6" lengthAdjust="spacingAndGlyphs">Number of nutrophils</text>
<text x="171" y="278" font-size="9.3" text-anchor="middle" fill="#111" transform="rotate(-90 171 278)" textLength="66.5" lengthAdjust="spacingAndGlyphs">per 3 400x fields</text>
<text x="264.8" y="186.7" font-size="17" text-anchor="start" font-weight="bold" fill="#000">D</text>
<line x1="316.00" y1="188.40" x2="316.00" y2="302.80" stroke="#000" stroke-width="2" stroke-linecap="butt"/>
<line x1="315.10" y1="302.00" x2="487.00" y2="302.00" stroke="#000" stroke-width="2" stroke-linecap="butt"/>
<line x1="312.00" y1="302.00" x2="316.00" y2="302.00" stroke="#000" stroke-width="1.4" stroke-linecap="butt"/>
<text x="312.4" y="305.3" font-size="9.2" text-anchor="end" fill="#111">0</text>
<line x1="312.00" y1="279.44" x2="316.00" y2="279.44" stroke="#000" stroke-width="1.4" stroke-linecap="butt"/>
<text x="312.4" y="282.74" font-size="9.2" text-anchor="end" fill="#111">3</text>
<line x1="312.00" y1="256.88" x2="316.00" y2="256.88" stroke="#000" stroke-width="1.4" stroke-linecap="butt"/>
<text x="312.4" y="260.18" font-size="9.2" text-anchor="end" fill="#111">6</text>
<line x1="312.00" y1="234.32" x2="316.00" y2="234.32" stroke="#000" stroke-width="1.4" stroke-linecap="butt"/>
<text x="312.4" y="237.62" font-size="9.2" text-anchor="end" fill="#111">9</text>
<line x1="312.00" y1="211.76" x2="316.00" y2="211.76" stroke="#000" stroke-width="1.4" stroke-linecap="butt"/>
<text x="312.4" y="215.06" font-size="9.2" text-anchor="end" fill="#111">12</text>
<line x1="312.00" y1="189.20" x2="316.00" y2="189.20" stroke="#000" stroke-width="1.4" stroke-linecap="butt"/>
<text x="312.4" y="192.5" font-size="9.2" text-anchor="end" fill="#111">15</text>
<line x1="316.30" y1="302.00" x2="316.30" y2="306.00" stroke="#000" stroke-width="1.4" stroke-linecap="butt"/>
<text x="316.3" y="314.2" font-size="9.5" text-anchor="middle" fill="#111">0</text>
<line x1="344.64" y1="302.00" x2="344.64" y2="306.00" stroke="#000" stroke-width="1.4" stroke-linecap="butt"/>
<text x="344.64" y="314.2" font-size="9.5" text-anchor="middle" fill="#111">2</text>
<line x1="372.98" y1="302.00" x2="372.98" y2="306.00" stroke="#000" stroke-width="1.4" stroke-linecap="butt"/>
<text x="372.98" y="314.2" font-size="9.5" text-anchor="middle" fill="#111">4</text>
<line x1="401.32" y1="302.00" x2="401.32" y2="306.00" stroke="#000" stroke-width="1.4" stroke-linecap="butt"/>
<text x="401.32" y="314.2" font-size="9.5" text-anchor="middle" fill="#111">6</text>
<line x1="429.66" y1="302.00" x2="429.66" y2="306.00" stroke="#000" stroke-width="1.4" stroke-linecap="butt"/>
<text x="429.66" y="314.2" font-size="9.5" text-anchor="middle" fill="#111">8</text>
<line x1="458.00" y1="302.00" x2="458.00" y2="306.00" stroke="#000" stroke-width="1.4" stroke-linecap="butt"/>
<text x="458.0" y="314.2" font-size="9.5" text-anchor="middle" fill="#111">10</text>
<line x1="486.34" y1="302.00" x2="486.34" y2="306.00" stroke="#000" stroke-width="1.4" stroke-linecap="butt"/>
<text x="486.34000000000003" y="314.2" font-size="9.5" text-anchor="middle" fill="#111">12</text>
<text x="493.6" y="314.2" font-size="9.5" text-anchor="start" fill="#111" textLength="21.5" lengthAdjust="spacingAndGlyphs">(Day)</text>
<text x="294.7" y="244.7" font-size="10" text-anchor="middle" fill="#111" transform="rotate(-90 294.7 244.7)" textLength="57" lengthAdjust="spacingAndGlyphs">Clinical Score</text>
<line x1="401.32" y1="225.00" x2="401.32" y2="239.00" stroke="#9a9a9a" stroke-width="1.7" stroke-linecap="butt"/>
<line x1="397.32" y1="225.00" x2="405.32" y2="225.00" stroke="#9a9a9a" stroke-width="1.7" stroke-linecap="butt"/>
<line x1="397.32" y1="239.00" x2="405.32" y2="239.00" stroke="#9a9a9a" stroke-width="1.7" stroke-linecap="butt"/>
<line x1="415.49" y1="252.00" x2="415.49" y2="269.50" stroke="#9a9a9a" stroke-width="1.7" stroke-linecap="butt"/>
<line x1="411.49" y1="252.00" x2="419.49" y2="252.00" stroke="#9a9a9a" stroke-width="1.7" stroke-linecap="butt"/>
<line x1="411.49" y1="269.50" x2="419.49" y2="269.50" stroke="#9a9a9a" stroke-width="1.7" stroke-linecap="butt"/>
<line x1="429.66" y1="249.00" x2="429.66" y2="269.00" stroke="#9a9a9a" stroke-width="1.7" stroke-linecap="butt"/>
<line x1="425.66" y1="249.00" x2="433.66" y2="249.00" stroke="#9a9a9a" stroke-width="1.7" stroke-linecap="butt"/>
<line x1="425.66" y1="269.00" x2="433.66" y2="269.00" stroke="#9a9a9a" stroke-width="1.7" stroke-linecap="butt"/>
<line x1="443.83" y1="253.00" x2="443.83" y2="268.50" stroke="#9a9a9a" stroke-width="1.7" stroke-linecap="butt"/>
<line x1="439.83" y1="253.00" x2="447.83" y2="253.00" stroke="#9a9a9a" stroke-width="1.7" stroke-linecap="butt"/>
<line x1="439.83" y1="268.50" x2="447.83" y2="268.50" stroke="#9a9a9a" stroke-width="1.7" stroke-linecap="butt"/>
<line x1="458.00" y1="270.50" x2="458.00" y2="281.50" stroke="#9a9a9a" stroke-width="1.7" stroke-linecap="butt"/>
<line x1="454.00" y1="270.50" x2="462.00" y2="270.50" stroke="#9a9a9a" stroke-width="1.7" stroke-linecap="butt"/>
<line x1="454.00" y1="281.50" x2="462.00" y2="281.50" stroke="#9a9a9a" stroke-width="1.7" stroke-linecap="butt"/>
<line x1="472.17" y1="277.90" x2="472.17" y2="285.20" stroke="#9a9a9a" stroke-width="1.7" stroke-linecap="butt"/>
<line x1="468.17" y1="277.90" x2="476.17" y2="277.90" stroke="#9a9a9a" stroke-width="1.7" stroke-linecap="butt"/>
<line x1="468.17" y1="285.20" x2="476.17" y2="285.20" stroke="#9a9a9a" stroke-width="1.7" stroke-linecap="butt"/>
<polyline points="401.32,232.00 415.49,260.60 429.66,259.00 443.83,260.60 458.00,276.00 472.17,281.50" fill="none" stroke="#000" stroke-width="1.9" stroke-dasharray="2.6 2.2"/>
<circle cx="401.32" cy="232.00" r="3.6" fill="#9a9a9a"/>
<circle cx="415.49" cy="260.60" r="3.6" fill="#9a9a9a"/>
<circle cx="429.66" cy="259.00" r="3.6" fill="#9a9a9a"/>
<circle cx="443.83" cy="260.60" r="3.6" fill="#9a9a9a"/>
<circle cx="458.00" cy="276.00" r="3.6" fill="#9a9a9a"/>
<circle cx="472.17" cy="281.50" r="3.6" fill="#9a9a9a"/>
<line x1="401.32" y1="224.00" x2="401.32" y2="237.00" stroke="#000" stroke-width="1.7" stroke-linecap="butt"/>
<line x1="397.32" y1="224.00" x2="405.32" y2="224.00" stroke="#000" stroke-width="1.7" stroke-linecap="butt"/>
<line x1="397.32" y1="237.00" x2="405.32" y2="237.00" stroke="#000" stroke-width="1.7" stroke-linecap="butt"/>
<line x1="415.49" y1="236.00" x2="415.49" y2="250.00" stroke="#000" stroke-width="1.7" stroke-linecap="butt"/>
<line x1="411.49" y1="236.00" x2="419.49" y2="236.00" stroke="#000" stroke-width="1.7" stroke-linecap="butt"/>
<line x1="411.49" y1="250.00" x2="419.49" y2="250.00" stroke="#000" stroke-width="1.7" stroke-linecap="butt"/>
<line x1="429.66" y1="225.50" x2="429.66" y2="242.50" stroke="#000" stroke-width="1.7" stroke-linecap="butt"/>
<line x1="425.66" y1="225.50" x2="433.66" y2="225.50" stroke="#000" stroke-width="1.7" stroke-linecap="butt"/>
<line x1="425.66" y1="242.50" x2="433.66" y2="242.50" stroke="#000" stroke-width="1.7" stroke-linecap="butt"/>
<line x1="443.83" y1="228.00" x2="443.83" y2="246.50" stroke="#000" stroke-width="1.7" stroke-linecap="butt"/>
<line x1="439.83" y1="228.00" x2="447.83" y2="228.00" stroke="#000" stroke-width="1.7" stroke-linecap="butt"/>
<line x1="439.83" y1="246.50" x2="447.83" y2="246.50" stroke="#000" stroke-width="1.7" stroke-linecap="butt"/>
<line x1="458.00" y1="250.50" x2="458.00" y2="267.00" stroke="#000" stroke-width="1.7" stroke-linecap="butt"/>
<line x1="454.00" y1="250.50" x2="462.00" y2="250.50" stroke="#000" stroke-width="1.7" stroke-linecap="butt"/>
<line x1="454.00" y1="267.00" x2="462.00" y2="267.00" stroke="#000" stroke-width="1.7" stroke-linecap="butt"/>
<line x1="472.17" y1="250.00" x2="472.17" y2="268.00" stroke="#000" stroke-width="1.7" stroke-linecap="butt"/>
<line x1="468.17" y1="250.00" x2="476.17" y2="250.00" stroke="#000" stroke-width="1.7" stroke-linecap="butt"/>
<line x1="468.17" y1="268.00" x2="476.17" y2="268.00" stroke="#000" stroke-width="1.7" stroke-linecap="butt"/>
<polyline points="401.32,230.20 415.49,242.90 429.66,233.70 443.83,237.50 458.00,258.50 472.17,258.50" fill="none" stroke="#000" stroke-width="2.0" stroke-dasharray="5.5 2.2"/>
<circle cx="415.49" cy="242.90" r="3.5" fill="#000"/>
<circle cx="429.66" cy="233.70" r="3.5" fill="#000"/>
<circle cx="443.83" cy="237.50" r="3.5" fill="#000"/>
<circle cx="458.00" cy="258.50" r="3.5" fill="#000"/>
<circle cx="472.17" cy="258.50" r="3.5" fill="#000"/>
<line x1="372.98" y1="243.80" x2="372.98" y2="251.00" stroke="#000" stroke-width="1.7" stroke-linecap="butt"/>
<line x1="368.98" y1="243.80" x2="376.98" y2="243.80" stroke="#000" stroke-width="1.7" stroke-linecap="butt"/>
<line x1="368.98" y1="251.00" x2="376.98" y2="251.00" stroke="#000" stroke-width="1.7" stroke-linecap="butt"/>
<line x1="401.32" y1="224.50" x2="401.32" y2="236.00" stroke="#000" stroke-width="1.7" stroke-linecap="butt"/>
<line x1="397.32" y1="224.50" x2="405.32" y2="224.50" stroke="#000" stroke-width="1.7" stroke-linecap="butt"/>
<line x1="397.32" y1="236.00" x2="405.32" y2="236.00" stroke="#000" stroke-width="1.7" stroke-linecap="butt"/>
<line x1="415.49" y1="224.50" x2="415.49" y2="231.50" stroke="#000" stroke-width="1.7" stroke-linecap="butt"/>
<line x1="411.49" y1="224.50" x2="419.49" y2="224.50" stroke="#000" stroke-width="1.7" stroke-linecap="butt"/>
<line x1="411.49" y1="231.50" x2="419.49" y2="231.50" stroke="#000" stroke-width="1.7" stroke-linecap="butt"/>
<line x1="429.66" y1="216.50" x2="429.66" y2="227.50" stroke="#000" stroke-width="1.7" stroke-linecap="butt"/>
<line x1="425.66" y1="216.50" x2="433.66" y2="216.50" stroke="#000" stroke-width="1.7" stroke-linecap="butt"/>
<line x1="425.66" y1="227.50" x2="433.66" y2="227.50" stroke="#000" stroke-width="1.7" stroke-linecap="butt"/>
<line x1="443.83" y1="218.00" x2="443.83" y2="227.50" stroke="#000" stroke-width="1.7" stroke-linecap="butt"/>
<line x1="439.83" y1="218.00" x2="447.83" y2="218.00" stroke="#000" stroke-width="1.7" stroke-linecap="butt"/>
<line x1="439.83" y1="227.50" x2="447.83" y2="227.50" stroke="#000" stroke-width="1.7" stroke-linecap="butt"/>
<line x1="458.00" y1="218.50" x2="458.00" y2="227.00" stroke="#000" stroke-width="1.7" stroke-linecap="butt"/>
<line x1="454.00" y1="218.50" x2="462.00" y2="218.50" stroke="#000" stroke-width="1.7" stroke-linecap="butt"/>
<line x1="454.00" y1="227.00" x2="462.00" y2="227.00" stroke="#000" stroke-width="1.7" stroke-linecap="butt"/>
<line x1="472.17" y1="218.50" x2="472.17" y2="224.50" stroke="#000" stroke-width="1.7" stroke-linecap="butt"/>
<line x1="468.17" y1="218.50" x2="476.17" y2="218.50" stroke="#000" stroke-width="1.7" stroke-linecap="butt"/>
<line x1="468.17" y1="224.50" x2="476.17" y2="224.50" stroke="#000" stroke-width="1.7" stroke-linecap="butt"/>
<polyline points="316.30,301.40 330.47,293.00 344.64,273.10 372.98,247.30 401.32,230.20 415.49,228.00 429.66,222.10 443.83,222.70 458.00,222.70 472.17,221.30" fill="none" stroke="#000" stroke-width="2.0"/>
<circle cx="316.30" cy="301.40" r="3.2" fill="#fff" stroke="#000" stroke-width="1.5"/>
<circle cx="330.47" cy="293.00" r="3.2" fill="#fff" stroke="#000" stroke-width="1.5"/>
<circle cx="344.64" cy="273.10" r="3.2" fill="#fff" stroke="#000" stroke-width="1.5"/>
<circle cx="372.98" cy="247.30" r="3.2" fill="#fff" stroke="#000" stroke-width="1.5"/>
<circle cx="401.32" cy="230.20" r="3.2" fill="#fff" stroke="#000" stroke-width="1.5"/>
<circle cx="415.49" cy="228.00" r="3.2" fill="#fff" stroke="#000" stroke-width="1.5"/>
<circle cx="429.66" cy="222.10" r="3.2" fill="#fff" stroke="#000" stroke-width="1.5"/>
<circle cx="443.83" cy="222.70" r="3.2" fill="#fff" stroke="#000" stroke-width="1.5"/>
<circle cx="458.00" cy="222.70" r="3.2" fill="#fff" stroke="#000" stroke-width="1.5"/>
<circle cx="472.17" cy="221.30" r="3.2" fill="#fff" stroke="#000" stroke-width="1.5"/>
<circle cx="401.32" cy="232.00" r="3.6" fill="#9a9a9a"/>
<line x1="322.50" y1="189.30" x2="339.00" y2="189.30" stroke="#000" stroke-width="1.9" stroke-linecap="butt"/>
<circle cx="330.80" cy="189.30" r="3.2" fill="#fff" stroke="#000" stroke-width="1.5"/>
<line x1="322.50" y1="200.30" x2="339.00" y2="200.30" stroke="#000" stroke-width="1.9" stroke-dasharray="5 1.5" stroke-linecap="butt"/>
<circle cx="330.80" cy="200.30" r="3.4" fill="#000"/>
<line x1="322.50" y1="212.60" x2="339.00" y2="212.60" stroke="#000" stroke-width="1.9" stroke-dasharray="2 2.2" stroke-linecap="butt"/>
<circle cx="330.80" cy="212.60" r="3.7" fill="#9a9a9a"/>
<text x="340.8" y="192.70000000000002" font-size="9.5" text-anchor="start" fill="#111">Iso</text>
<text x="340.8" y="203.70000000000002" font-size="9.5" text-anchor="start" fill="#111" textLength="62" lengthAdjust="spacingAndGlyphs">Anti-Ly6G 5 <tspan font-size="8.5">µ</tspan>g</text>
<text x="340.8" y="216.0" font-size="9.5" text-anchor="start" fill="#111" textLength="67.5" lengthAdjust="spacingAndGlyphs">Anti-Ly6G 50 <tspan font-size="8.5">µ</tspan>g</text>
<polygon points="401.10,248.20 404.40,256.60 402.25,255.70 402.25,259.50 399.95,259.50 399.95,255.70 397.80,256.60" fill="#000"/>
<polygon points="443.30,272.30 446.60,280.70 444.45,279.80 444.45,283.60 442.15,283.60 442.15,279.80 440.00,280.70" fill="#000"/>
<text x="398.8" y="288" font-size="9.3" text-anchor="start" fill="#111" textLength="39" lengthAdjust="spacingAndGlyphs">Treatment</text>
<polygon points="316.30,316.70 319.60,325.10 317.45,324.20 317.45,329.00 315.15,329.00 315.15,324.20 313.00,325.10" fill="#8c8c8c"/>
<polygon points="344.60,316.70 347.90,325.10 345.75,324.20 345.75,329.00 343.45,329.00 343.45,324.20 341.30,325.10" fill="#8c8c8c"/>
<text x="350.5" y="328.2" font-size="9.5" text-anchor="start" fill="#111" textLength="57.4" lengthAdjust="spacingAndGlyphs">K/BXN Serum</text>
<line x1="477.50" y1="216.70" x2="477.50" y2="261.70" stroke="#000" stroke-width="1.4" stroke-linecap="butt"/>
<line x1="488.80" y1="216.70" x2="488.80" y2="282.80" stroke="#000" stroke-width="1.4" stroke-linecap="butt"/>
<text x="475.4" y="237.5" font-size="13.5" text-anchor="middle" font-weight="bold" fill="#111" transform="rotate(90 475.4 237.5)">**</text>
<text x="486.6" y="250.4" font-size="13.5" text-anchor="middle" font-weight="bold" fill="#111" transform="rotate(90 486.6 250.4)">**</text>
<line x1="312.90" y1="347.25" x2="312.90" y2="461.40" stroke="#000" stroke-width="2" stroke-linecap="butt"/>
<line x1="312.00" y1="460.60" x2="483.00" y2="460.60" stroke="#000" stroke-width="2" stroke-linecap="butt"/>
<line x1="308.90" y1="460.30" x2="312.90" y2="460.30" stroke="#000" stroke-width="1.4" stroke-linecap="butt"/>
<text x="308.5" y="463.6" font-size="9.3" text-anchor="end" fill="#111">0.0</text>
<line x1="308.90" y1="437.85" x2="312.90" y2="437.85" stroke="#000" stroke-width="1.4" stroke-linecap="butt"/>
<text x="308.5" y="441.15000000000003" font-size="9.3" text-anchor="end" fill="#111">0.5</text>
<line x1="308.90" y1="415.40" x2="312.90" y2="415.40" stroke="#000" stroke-width="1.4" stroke-linecap="butt"/>
<text x="308.5" y="418.70000000000005" font-size="9.3" text-anchor="end" fill="#111">1.0</text>
<line x1="308.90" y1="392.95" x2="312.90" y2="392.95" stroke="#000" stroke-width="1.4" stroke-linecap="butt"/>
<text x="308.5" y="396.25000000000006" font-size="9.3" text-anchor="end" fill="#111">1.5</text>
<line x1="308.90" y1="370.50" x2="312.90" y2="370.50" stroke="#000" stroke-width="1.4" stroke-linecap="butt"/>
<text x="308.5" y="373.8" font-size="9.3" text-anchor="end" fill="#111">2.0</text>
<line x1="308.90" y1="348.05" x2="312.90" y2="348.05" stroke="#000" stroke-width="1.4" stroke-linecap="butt"/>
<text x="308.5" y="351.35" font-size="9.3" text-anchor="end" fill="#111">2.5</text>
<line x1="341.30" y1="354.70" x2="473.70" y2="354.70" stroke="#000" stroke-width="1.4" stroke-linecap="butt"/>
<line x1="341.30" y1="369.80" x2="400.20" y2="369.80" stroke="#000" stroke-width="1.4" stroke-linecap="butt"/>
<text x="407" y="354.5" font-size="13.5" text-anchor="middle" font-weight="bold" fill="#111">*</text>
<text x="373" y="367.9" font-size="9.3" text-anchor="middle" fill="#111">n.s.</text>
<circle cx="341.30" cy="377.10" r="2.75" fill="#fff" stroke="#000" stroke-width="1.4"/>
<circle cx="341.30" cy="394.20" r="2.75" fill="#fff" stroke="#000" stroke-width="1.4"/>
<circle cx="332.70" cy="436.00" r="2.75" fill="#fff" stroke="#000" stroke-width="1.4"/>
<circle cx="337.70" cy="435.00" r="2.75" fill="#fff" stroke="#000" stroke-width="1.4"/>
<circle cx="341.90" cy="431.50" r="2.75" fill="#fff" stroke="#000" stroke-width="1.4"/>
<circle cx="345.40" cy="435.40" r="2.75" fill="#fff" stroke="#000" stroke-width="1.4"/>
<circle cx="350.00" cy="439.80" r="2.75" fill="#fff" stroke="#000" stroke-width="1.4"/>
<circle cx="341.90" cy="440.40" r="2.75" fill="#fff" stroke="#000" stroke-width="1.4"/>
<line x1="322.50" y1="423.30" x2="360.20" y2="423.30" stroke="#000" stroke-width="1.7" stroke-linecap="butt"/>
<circle cx="389.40" cy="420.20" r="3.6" fill="#000"/>
<circle cx="389.40" cy="426.10" r="3.6" fill="#000"/>
<circle cx="397.50" cy="423.70" r="3.6" fill="#000"/>
<circle cx="406.10" cy="423.70" r="3.6" fill="#000"/>
<circle cx="397.50" cy="432.80" r="3.6" fill="#000"/>
<circle cx="401.50" cy="437.20" r="3.6" fill="#000"/>
<circle cx="389.40" cy="439.80" r="3.6" fill="#000"/>
<circle cx="406.10" cy="440.90" r="3.6" fill="#000"/>
<circle cx="397.50" cy="445.80" r="3.6" fill="#000"/>
<line x1="378.50" y1="432.80" x2="416.30" y2="432.80" stroke="#000" stroke-width="1.7" stroke-linecap="butt"/>
<circle cx="454.00" cy="443.60" r="3.5" fill="#9a9a9a"/>
<circle cx="449.50" cy="450.30" r="3.5" fill="#9a9a9a"/>
<circle cx="466.20" cy="449.00" r="3.5" fill="#9a9a9a"/>
<circle cx="458.00" cy="452.50" r="3.5" fill="#9a9a9a"/>
<circle cx="445.20" cy="455.20" r="3.5" fill="#9a9a9a"/>
<circle cx="454.00" cy="456.50" r="3.5" fill="#9a9a9a"/>
<circle cx="462.10" cy="456.00" r="3.5" fill="#9a9a9a"/>
<line x1="434.70" y1="452.00" x2="472.90" y2="452.00" stroke="#000" stroke-width="1.7" stroke-linecap="butt"/>
<line x1="341.30" y1="460.60" x2="341.30" y2="463.90" stroke="#000" stroke-width="1.4" stroke-linecap="butt"/>
<line x1="397.50" y1="460.60" x2="397.50" y2="463.90" stroke="#000" stroke-width="1.4" stroke-linecap="butt"/>
<line x1="453.80" y1="460.60" x2="453.80" y2="463.90" stroke="#000" stroke-width="1.4" stroke-linecap="butt"/>
<text x="340.8" y="473" font-size="9.3" text-anchor="middle" fill="#111">Iso</text>
<text x="397.5" y="473" font-size="9.5" text-anchor="middle" fill="#111">5</text>
<text x="454" y="473" font-size="9.5" text-anchor="middle" fill="#111">50</text>
<line x1="394.80" y1="478.60" x2="458.90" y2="478.60" stroke="#000" stroke-width="1.4" stroke-linecap="butt"/>
<text x="397.5" y="491" font-size="9.5" text-anchor="start" fill="#111" textLength="82.7" lengthAdjust="spacingAndGlyphs">Anti-Ly6G (<tspan font-size="8.5">µ</tspan>g/dose)</text>
<text x="278.1" y="404.2" font-size="9.3" text-anchor="middle" fill="#111" transform="rotate(-90 278.1 404.2)" textLength="98" lengthAdjust="spacingAndGlyphs">Number of neutrophil in</text>
<text x="290.2" y="403.7" font-size="9.3" text-anchor="middle" fill="#111" transform="rotate(-90 290.2 403.7)" textLength="83.5" lengthAdjust="spacingAndGlyphs">Blood (x10<tspan font-size="6" dy="-3.5">3</tspan><tspan dy="3.5"> cells/</tspan><tspan font-size="8.5">µ</tspan>l)</text>
<text x="1.3" y="395" font-size="17" text-anchor="start" font-weight="bold" fill="#000">E</text>
<line x1="57.90" y1="399.45" x2="57.90" y2="514.10" stroke="#000" stroke-width="2" stroke-linecap="butt"/>
<line x1="57.00" y1="513.30" x2="236.30" y2="513.30" stroke="#000" stroke-width="2" stroke-linecap="butt"/>
<line x1="53.90" y1="512.60" x2="57.90" y2="512.60" stroke="#000" stroke-width="1.4" stroke-linecap="butt"/>
<text x="53.6" y="515.4" font-size="7.8" text-anchor="end" font-weight="bold" fill="#111">0</text>
<line x1="53.90" y1="475.15" x2="57.90" y2="475.15" stroke="#000" stroke-width="1.4" stroke-linecap="butt"/>
<text x="53.6" y="477.95000000000005" font-size="7.8" text-anchor="end" font-weight="bold" fill="#111">1</text>
<line x1="53.90" y1="437.70" x2="57.90" y2="437.70" stroke="#000" stroke-width="1.4" stroke-linecap="butt"/>
<text x="53.6" y="440.50000000000006" font-size="7.8" text-anchor="end" font-weight="bold" fill="#111">2</text>
<line x1="53.90" y1="400.25" x2="57.90" y2="400.25" stroke="#000" stroke-width="1.4" stroke-linecap="butt"/>
<text x="53.6" y="403.05" font-size="7.8" text-anchor="end" font-weight="bold" fill="#111">3</text>
<line x1="70.00" y1="513.30" x2="70.00" y2="517.60" stroke="#000" stroke-width="1.4" stroke-linecap="butt"/>
<line x1="95.75" y1="513.30" x2="95.75" y2="517.60" stroke="#000" stroke-width="1.4" stroke-linecap="butt"/>
<line x1="121.00" y1="513.30" x2="121.00" y2="517.60" stroke="#000" stroke-width="1.4" stroke-linecap="butt"/>
<line x1="146.70" y1="513.30" x2="146.70" y2="517.60" stroke="#000" stroke-width="1.4" stroke-linecap="butt"/>
<line x1="172.00" y1="513.30" x2="172.00" y2="517.60" stroke="#000" stroke-width="1.4" stroke-linecap="butt"/>
<line x1="197.50" y1="513.30" x2="197.50" y2="517.60" stroke="#000" stroke-width="1.4" stroke-linecap="butt"/>
<line x1="223.20" y1="513.30" x2="223.20" y2="517.60" stroke="#000" stroke-width="1.4" stroke-linecap="butt"/>
<text x="62.6" y="409.1" font-size="8.8" text-anchor="start" font-weight="bold" fill="#111" textLength="26.2" lengthAdjust="spacingAndGlyphs">Blood</text>
<text x="27.9" y="456.3" font-size="9.3" text-anchor="middle" fill="#111" transform="rotate(-90 27.9 456.3)" textLength="92.6" lengthAdjust="spacingAndGlyphs">Number of neutrophils</text>
<text x="42.3" y="458.2" font-size="9.3" text-anchor="middle" fill="#111" transform="rotate(-90 42.3 458.2)" textLength="46.5" lengthAdjust="spacingAndGlyphs">(x 10<tspan font-size="6" dy="-3.5">3</tspan><tspan dy="3.5">/</tspan><tspan font-size="8.5">µ</tspan>L)</text>
<circle cx="63.40" cy="479.20" r="2.3" fill="#fff" stroke="#000" stroke-width="1.4"/>
<circle cx="70.60" cy="485.60" r="2.3" fill="#fff" stroke="#000" stroke-width="1.4"/>
<circle cx="74.00" cy="490.80" r="2.3" fill="#fff" stroke="#000" stroke-width="1.4"/>
<circle cx="70.60" cy="493.10" r="2.3" fill="#fff" stroke="#000" stroke-width="1.4"/>
<circle cx="63.70" cy="499.80" r="2.3" fill="#fff" stroke="#000" stroke-width="1.4"/>
<circle cx="74.00" cy="498.60" r="2.3" fill="#fff" stroke="#000" stroke-width="1.4"/>
<circle cx="67.70" cy="500.60" r="2.3" fill="#fff" stroke="#000" stroke-width="1.4"/>
<circle cx="70.60" cy="502.30" r="2.3" fill="#fff" stroke="#000" stroke-width="1.4"/>
<circle cx="66.50" cy="504.00" r="2.3" fill="#fff" stroke="#000" stroke-width="1.4"/>
<circle cx="74.00" cy="506.70" r="2.3" fill="#fff" stroke="#000" stroke-width="1.4"/>
<circle cx="70.60" cy="509.20" r="2.3" fill="#fff" stroke="#000" stroke-width="1.4"/>
<line x1="61.25" y1="498.00" x2="79.50" y2="498.00" stroke="#000" stroke-width="1.7" stroke-linecap="butt"/>
<circle cx="96.30" cy="478.30" r="3.1" fill="#000"/>
<circle cx="88.80" cy="494.80" r="3.1" fill="#000"/>
<circle cx="96.00" cy="500.20" r="3.1" fill="#000"/>
<circle cx="94.20" cy="505.80" r="3.1" fill="#000"/>
<circle cx="97.90" cy="505.80" r="3.1" fill="#000"/>
<circle cx="91.70" cy="509.80" r="3.1" fill="#000"/>
<circle cx="96.00" cy="509.80" r="3.1" fill="#000"/>
<circle cx="100.20" cy="509.80" r="3.1" fill="#000"/>
<circle cx="121.20" cy="414.30" r="3.1" fill="#000"/>
<circle cx="121.00" cy="459.60" r="3.1" fill="#000"/>
<circle cx="124.50" cy="487.60" r="3.1" fill="#000"/>
<circle cx="119.50" cy="488.00" r="3.1" fill="#000"/>
<circle cx="113.80" cy="499.00" r="3.1" fill="#000"/>
<circle cx="121.60" cy="500.00" r="3.1" fill="#000"/>
<circle cx="118.70" cy="504.00" r="3.1" fill="#000"/>
<circle cx="125.40" cy="505.80" r="3.1" fill="#000"/>
<circle cx="121.60" cy="507.00" r="3.1" fill="#000"/>
<circle cx="139.80" cy="496.80" r="3.1" fill="#000"/>
<circle cx="146.70" cy="503.50" r="3.1" fill="#000"/>
<circle cx="143.30" cy="509.20" r="3.1" fill="#000"/>
<circle cx="147.60" cy="510.00" r="3.1" fill="#000"/>
<circle cx="150.50" cy="510.00" r="3.1" fill="#000"/>
<circle cx="172.10" cy="493.40" r="3.1" fill="#000"/>
<circle cx="165.80" cy="501.10" r="3.1" fill="#000"/>
<circle cx="176.40" cy="500.00" r="3.1" fill="#000"/>
<circle cx="169.20" cy="504.90" r="3.1" fill="#000"/>
<circle cx="175.60" cy="505.80" r="3.1" fill="#000"/>
<circle cx="172.10" cy="509.20" r="3.1" fill="#000"/>
<circle cx="190.90" cy="487.00" r="3.1" fill="#000"/>
<circle cx="198.10" cy="492.80" r="3.1" fill="#000"/>
<circle cx="193.70" cy="499.10" r="3.1" fill="#000"/>
<circle cx="198.10" cy="503.50" r="3.1" fill="#000"/>
<circle cx="201.50" cy="503.50" r="3.1" fill="#000"/>
<circle cx="223.20" cy="485.30" r="3.1" fill="#000"/>
<circle cx="216.00" cy="492.80" r="3.1" fill="#000"/>
<circle cx="223.20" cy="495.70" r="3.1" fill="#000"/>
<circle cx="219.70" cy="499.10" r="3.1" fill="#000"/>
<circle cx="226.90" cy="500.00" r="3.1" fill="#000"/>
<circle cx="223.20" cy="503.50" r="3.1" fill="#000"/>
<line x1="87.50" y1="504.25" x2="105.00" y2="504.25" stroke="#000" stroke-width="1.7" stroke-linecap="butt"/>
<line x1="112.00" y1="489.60" x2="130.30" y2="489.60" stroke="#000" stroke-width="1.7" stroke-linecap="butt"/>
<line x1="138.00" y1="507.80" x2="155.40" y2="507.80" stroke="#000" stroke-width="1.7" stroke-linecap="butt"/>
<line x1="164.00" y1="502.00" x2="181.60" y2="502.00" stroke="#000" stroke-width="1.7" stroke-linecap="butt"/>
<line x1="188.80" y1="497.70" x2="206.70" y2="497.70" stroke="#000" stroke-width="1.7" stroke-linecap="butt"/>
<line x1="214.80" y1="496.20" x2="232.10" y2="496.20" stroke="#000" stroke-width="1.7" stroke-linecap="butt"/>
<text x="146.7" y="489.1" font-size="13.5" text-anchor="middle" font-weight="bold" fill="#111">*</text>
<line x1="59.25" y1="540.95" x2="59.25" y2="659.70" stroke="#000" stroke-width="2" stroke-linecap="butt"/>
<line x1="51.20" y1="658.90" x2="243.50" y2="658.90" stroke="#000" stroke-width="2" stroke-linecap="butt"/>
<line x1="55.25" y1="639.75" x2="59.25" y2="639.75" stroke="#000" stroke-width="1.4" stroke-linecap="butt"/>
<text x="54.25" y="643.05" font-size="9.3" text-anchor="end" fill="#111">50</text>
<line x1="55.25" y1="590.75" x2="59.25" y2="590.75" stroke="#000" stroke-width="1.4" stroke-linecap="butt"/>
<text x="54.25" y="594.05" font-size="9.3" text-anchor="end" fill="#111">75</text>
<line x1="55.25" y1="541.75" x2="59.25" y2="541.75" stroke="#000" stroke-width="1.4" stroke-linecap="butt"/>
<text x="54.25" y="545.05" font-size="9.3" text-anchor="end" fill="#111">100</text>
<line x1="71.75" y1="658.90" x2="71.75" y2="662.90" stroke="#000" stroke-width="1.4" stroke-linecap="butt"/>
<line x1="97.50" y1="658.90" x2="97.50" y2="662.90" stroke="#000" stroke-width="1.4" stroke-linecap="butt"/>
<line x1="124.30" y1="658.90" x2="124.30" y2="662.90" stroke="#000" stroke-width="1.4" stroke-linecap="butt"/>
<line x1="150.40" y1="658.90" x2="150.40" y2="662.90" stroke="#000" stroke-width="1.4" stroke-linecap="butt"/>
<line x1="176.30" y1="658.90" x2="176.30" y2="662.90" stroke="#000" stroke-width="1.4" stroke-linecap="butt"/>
<line x1="202.90" y1="658.90" x2="202.90" y2="662.90" stroke="#000" stroke-width="1.4" stroke-linecap="butt"/>
<line x1="228.80" y1="658.90" x2="228.80" y2="662.90" stroke="#000" stroke-width="1.4" stroke-linecap="butt"/>
<text x="63.8" y="552.6" font-size="8.7" text-anchor="start" font-weight="bold" fill="#111" textLength="35.2" lengthAdjust="spacingAndGlyphs">Marrow</text>
<text x="29.8" y="601" font-size="9.3" text-anchor="middle" fill="#111" transform="rotate(-90 29.8 601)" textLength="92.5" lengthAdjust="spacingAndGlyphs">Percent of neutrophils</text>
<circle cx="72.50" cy="615.75" r="2.4" fill="#fff" stroke="#000" stroke-width="1.4"/>
<circle cx="65.50" cy="623.00" r="2.4" fill="#fff" stroke="#000" stroke-width="1.4"/>
<circle cx="72.50" cy="624.25" r="2.4" fill="#fff" stroke="#000" stroke-width="1.4"/>
<circle cx="68.75" cy="632.00" r="2.4" fill="#fff" stroke="#000" stroke-width="1.4"/>
<circle cx="72.00" cy="636.25" r="2.4" fill="#fff" stroke="#000" stroke-width="1.4"/>
<circle cx="75.50" cy="635.75" r="2.4" fill="#fff" stroke="#000" stroke-width="1.4"/>
<line x1="63.75" y1="627.50" x2="81.25" y2="627.50" stroke="#000" stroke-width="1.7" stroke-linecap="butt"/>
<circle cx="98.25" cy="610.50" r="2.9" fill="#000"/>
<circle cx="91.25" cy="623.25" r="2.9" fill="#000"/>
<circle cx="102.00" cy="622.50" r="2.9" fill="#000"/>
<circle cx="97.50" cy="625.00" r="2.9" fill="#000"/>
<circle cx="102.00" cy="638.00" r="2.9" fill="#000"/>
<circle cx="98.25" cy="640.00" r="2.9" fill="#000"/>
<circle cx="117.20" cy="599.70" r="2.9" fill="#000"/>
<circle cx="124.40" cy="605.20" r="2.9" fill="#000"/>
<circle cx="124.40" cy="624.00" r="2.9" fill="#000"/>
<circle cx="124.40" cy="631.10" r="2.9" fill="#000"/>
<circle cx="128.70" cy="644.40" r="2.9" fill="#000"/>
<circle cx="124.40" cy="645.60" r="2.9" fill="#000"/>
<circle cx="150.40" cy="588.70" r="2.9" fill="#000"/>
<circle cx="150.40" cy="598.00" r="2.9" fill="#000"/>
<circle cx="150.40" cy="619.60" r="2.9" fill="#000"/>
<circle cx="143.20" cy="634.00" r="2.9" fill="#000"/>
<circle cx="150.40" cy="637.80" r="2.9" fill="#000"/>
<circle cx="150.40" cy="644.40" r="2.9" fill="#000"/>
<circle cx="206.60" cy="600.90" r="2.9" fill="#000"/>
<circle cx="202.30" cy="605.20" r="2.9" fill="#000"/>
<circle cx="195.10" cy="608.90" r="2.9" fill="#000"/>
<circle cx="202.30" cy="612.70" r="2.9" fill="#000"/>
<circle cx="206.60" cy="617.60" r="2.9" fill="#000"/>
<circle cx="202.90" cy="622.50" r="2.9" fill="#000"/>
<circle cx="221.00" cy="598.80" r="2.9" fill="#000"/>
<circle cx="232.60" cy="596.50" r="2.9" fill="#000"/>
<circle cx="226.80" cy="601.20" r="2.9" fill="#000"/>
<circle cx="234.00" cy="601.20" r="2.9" fill="#000"/>
<circle cx="224.50" cy="602.50" r="2.9" fill="#000"/>
<circle cx="228.30" cy="607.50" r="2.9" fill="#000"/>
<circle cx="232.60" cy="604.60" r="2.9" fill="#000"/>
<line x1="88.75" y1="625.75" x2="107.50" y2="625.75" stroke="#000" stroke-width="1.7" stroke-linecap="butt"/>
<line x1="115.20" y1="624.80" x2="133.70" y2="624.80" stroke="#000" stroke-width="1.7" stroke-linecap="butt"/>
<line x1="141.70" y1="620.00" x2="159.60" y2="620.00" stroke="#000" stroke-width="1.7" stroke-linecap="butt"/>
<line x1="193.60" y1="611.80" x2="211.50" y2="611.80" stroke="#000" stroke-width="1.7" stroke-linecap="butt"/>
<line x1="219.60" y1="601.20" x2="237.50" y2="601.20" stroke="#000" stroke-width="1.7" stroke-linecap="butt"/>
<text x="202.9" y="593.2" font-size="13.5" text-anchor="middle" font-weight="bold" fill="#111">*</text>
<text x="228.8" y="584.5" font-size="13.5" text-anchor="middle" font-weight="bold" fill="#111">*</text>
<text x="176.3" y="650.5" font-size="10.5" text-anchor="middle" fill="#111">nd</text>
<text x="37" y="673.8" font-size="9.5" text-anchor="start" fill="#111" textLength="41.75" lengthAdjust="spacingAndGlyphs">Untreated</text>
<text x="86.8" y="671.3" font-size="9.5" text-anchor="start" fill="#111" textLength="23" lengthAdjust="spacingAndGlyphs">+30m</text>
<text x="117" y="671.5" font-size="9.5" text-anchor="start" fill="#111" textLength="16.5" lengthAdjust="spacingAndGlyphs">+4h</text>
<text x="150.4" y="671.2" font-size="9.5" text-anchor="middle" fill="#111">0</text>
<text x="176.3" y="671.2" font-size="9.5" text-anchor="middle" fill="#111">1</text>
<text x="202.9" y="671.2" font-size="9.5" text-anchor="middle" fill="#111">2</text>
<text x="228.8" y="671.2" font-size="9.5" text-anchor="middle" fill="#111">4</text>
<text x="241" y="670" font-size="9.5" text-anchor="start" fill="#111" textLength="22" lengthAdjust="spacingAndGlyphs">(Day)</text>
<line x1="90.50" y1="675.20" x2="134.70" y2="675.20" stroke="#000" stroke-width="1.7" stroke-linecap="butt"/>
<text x="98" y="685.8" font-size="10.5" text-anchor="start" fill="#111" textLength="28" lengthAdjust="spacingAndGlyphs">day -1</text>
<text x="39.5" y="698" font-size="9.5" text-anchor="start" fill="#111" textLength="43" lengthAdjust="spacingAndGlyphs">Anti-Ly6G</text>
<polygon points="88.80,686.90 92.10,695.30 89.95,694.40 89.95,698.90 87.65,698.90 87.65,694.40 85.50,695.30" fill="#000"/>
<text x="155.5" y="698" font-size="9.5" text-anchor="start" fill="#111" textLength="43.2" lengthAdjust="spacingAndGlyphs">Anti-Ly6G</text>
<polygon points="202.80,686.90 206.10,695.30 203.95,694.40 203.95,698.90 201.65,698.90 201.65,694.40 199.50,695.30" fill="#000"/>
<text x="261.6" y="522.2" font-size="17" text-anchor="start" font-weight="bold" fill="#000">F</text>
<line x1="334.10" y1="531.90" x2="334.10" y2="646.60" stroke="#000" stroke-width="2" stroke-linecap="butt"/>
<line x1="333.20" y1="645.80" x2="448.00" y2="645.80" stroke="#000" stroke-width="2" stroke-linecap="butt"/>
<line x1="330.10" y1="645.80" x2="334.10" y2="645.80" stroke="#000" stroke-width="1.4" stroke-linecap="butt"/>
<text x="329.8" y="649.1999999999999" font-size="9" text-anchor="end" fill="#111">0</text>
<line x1="330.10" y1="608.10" x2="334.10" y2="608.10" stroke="#000" stroke-width="1.4" stroke-linecap="butt"/>
<text x="329.8" y="611.4999999999999" font-size="9" text-anchor="end" fill="#111">10000</text>
<line x1="330.10" y1="570.40" x2="334.10" y2="570.40" stroke="#000" stroke-width="1.4" stroke-linecap="butt"/>
<text x="329.8" y="573.8" font-size="9" text-anchor="end" fill="#111">20000</text>
<line x1="330.10" y1="532.70" x2="334.10" y2="532.70" stroke="#000" stroke-width="1.4" stroke-linecap="butt"/>
<text x="329.8" y="536.0999999999999" font-size="9" text-anchor="end" fill="#111">30000</text>
<line x1="361.75" y1="540.80" x2="361.75" y2="580.60" stroke="#000" stroke-width="1.7" stroke-linecap="butt"/>
<line x1="352.75" y1="540.80" x2="370.75" y2="540.80" stroke="#000" stroke-width="1.7" stroke-linecap="butt"/>
<rect x="343.05" y="581.55" width="37.40" height="64.25" fill="#fff" stroke="#000" stroke-width="1.9"/>
<line x1="418.15" y1="618.10" x2="418.15" y2="623.80" stroke="#000" stroke-width="1.7" stroke-linecap="butt"/>
<line x1="408.15" y1="618.10" x2="428.15" y2="618.10" stroke="#000" stroke-width="1.7" stroke-linecap="butt"/>
<rect x="399.60" y="624.70" width="37.10" height="21.10" fill="#000" stroke="#000" stroke-width="1.8"/>
<text x="417.9" y="613.8" font-size="13.5" text-anchor="middle" font-weight="bold" fill="#111">*</text>
<text x="362" y="657.5" font-size="9.3" text-anchor="middle" fill="#111">Iso</text>
<text x="397.8" y="657.5" font-size="9.3" text-anchor="start" fill="#111" textLength="40.5" lengthAdjust="spacingAndGlyphs">Anti-Ly6G</text>
<text x="284.6" y="589" font-size="9" text-anchor="middle" fill="#111" transform="rotate(-90 284.6 589)" textLength="93" lengthAdjust="spacingAndGlyphs">Percent migration over</text>
<text x="296" y="589" font-size="9" text-anchor="middle" fill="#111" transform="rotate(-90 296 589)" textLength="53" lengthAdjust="spacingAndGlyphs">baseline (%)</text>
</svg>
</body></html>
